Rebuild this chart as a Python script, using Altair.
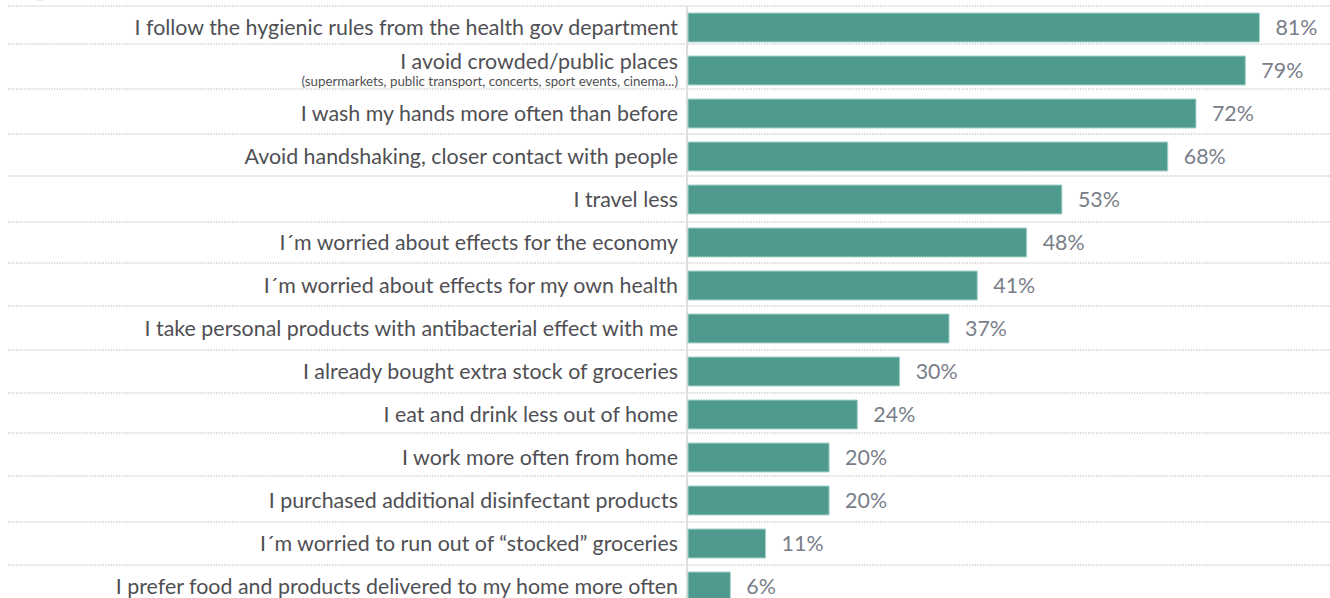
import altair as alt
import pandas as pd

statements = [
    "I follow the hygienic rules from the health gov department",
    "I avoid crowded/public places",
    "I wash my hands more often than before",
    "Avoid handshaking, closer contact with people",
    "I travel less",
    "I´m worried about effects for the economy",
    "I´m worried about effects for my own health",
    "I take personal products with antibacterial effect with me",
    "I already bought extra stock of groceries",
    "I eat and drink less out of home",
    "I work more often from home",
    "I purchased additional disinfectant products",
    "I´m worried to run out of “stocked” groceries",
    "I prefer food and products delivered to my home more often",
]
shares = [81, 79, 72, 68, 53, 48, 41, 37, 30, 24, 20, 20, 11, 6]
footnote = "(supermarkets, public transport, concerts, sport events, cinema...)"

FONT = "Lato"
TEAL = "#4e9a8f"
TEXT_DARK = "#4f4f54"
TEXT_GREY = "#7a7e89"

df = pd.DataFrame({"statement": statements, "share": shares})
df["label"] = df["share"].astype(str) + "%"
df["row"] = range(len(df))

y_enc = alt.Y("statement:N", sort=statements, axis=None,
              scale=alt.Scale(paddingInner=0.326, paddingOuter=0.163))
x_scale = alt.Scale(domain=[0, 91], nice=False)

# The separators sit a few pixels off the row boundary on some rows.
separator_shift = [0, -5, -3, -1, -2, 1, -1, -1, 0, 0, -3, -3, 0, 0]
separators = [
    alt.Chart(df[df["row"] == row])
    .mark_rule(color="#bcbcbc", strokeWidth=1, strokeDash=[1.5, 1.2], yOffset=-7 + shift)
    .encode(y=alt.Y("statement:N", sort=statements, axis=None, bandPosition=0,
                    scale=alt.Scale(domain=statements, paddingInner=0.326, paddingOuter=0.163)),
            x=alt.value(-680), x2=alt.value(642))
    for row, shift in enumerate(separator_shift)
]
baseline = (
    alt.Chart(df)
    .mark_rule(color="#dedede", strokeWidth=2)
    .encode(x=alt.value(-1), y=alt.value(0), y2=alt.value(602))
)
bars = (
    alt.Chart(df)
    .mark_bar(color=TEAL, stroke="#a6d3ca", strokeWidth=1)
    .encode(x=alt.X("share:Q", scale=x_scale, axis=None), y=y_enc)
)
values = (
    alt.Chart(df)
    .mark_text(align="left", baseline="middle", dx=16, dy=1, font=FONT, fontSize=21.4, color=TEXT_GREY)
    .encode(x=alt.X("share:Q", scale=x_scale, axis=None), y=y_enc, text="label:N")
)
names = (
    alt.Chart(df[df["row"] != 1])
    .mark_text(align="right", baseline="middle", dx=-10, dy=1, font=FONT, fontSize=21.4, color=TEXT_DARK)
    .encode(x=alt.value(0), y=y_enc, text="statement:N")
)
name_with_note = (
    alt.Chart(df[df["row"] == 1])
    .mark_text(align="right", baseline="middle", dx=-10, dy=-8, font=FONT, fontSize=21.4, color=TEXT_DARK)
    .encode(x=alt.value(0), y=y_enc, text="statement:N")
)
note = (
    alt.Chart(df[df["row"] == 1].assign(note=footnote))
    .mark_text(align="right", baseline="middle", dx=-10, dy=11, font=FONT, fontSize=13.3, color=TEXT_DARK)
    .encode(x=alt.value(0), y=y_enc, text="note:N")
)
badge = (
    alt.Chart(df.head(1))
    .mark_circle(size=3200, color="#ee7f92", opacity=1)
    .encode(x=alt.value(-648), y=alt.value(-34))
)

chart = (
    alt.layer(*separators, baseline, bars, values, names, name_with_note, note, badge)
    .properties(
        width=642, height=602,
        padding={"left": 688, "top": 6, "right": 0, "bottom": 0},
        autosize=alt.AutoSizeParams(type="none"),
        background="white",
    )
    .configure_view(stroke=None)
)
chart.save("out.html", embed_options={"renderer": "svg", "actions": False})
